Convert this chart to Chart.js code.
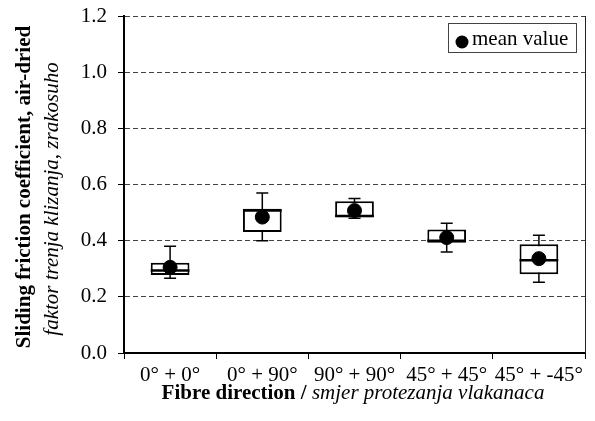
<!DOCTYPE html>
<html>
<head>
<meta charset="utf-8">
<script src="https://cdn.jsdelivr.net/npm/chart.js@4.4.1/dist/chart.umd.min.js"></script>
<style>
  html, body { margin: 0; padding: 0; background: #fff; }
  #wrap { width: 595px; height: 421px; }
</style>
</head>
<body>
<div id="wrap"><canvas id="chart"></canvas></div>
<script>
'use strict';

// fibre direction categories
const categories = ['0° + 0°', '0° + 90°', '90° + 90°', '45° + 45°', '45° + -45°'];

// box plot values
const minVals    = [0.266, 0.400, 0.480, 0.360, 0.252];
const q1Vals     = [0.278, 0.431, 0.483, 0.393, 0.280];
const medianVals = [0.294, 0.507, 0.488, 0.400, 0.330];
const q3Vals     = [0.321, 0.514, 0.540, 0.440, 0.387];
const maxVals    = [0.380, 0.570, 0.550, 0.462, 0.419];
const meanVals   = [0.305, 0.484, 0.507, 0.411, 0.336];

const yTicks = [0, 0.2, 0.4, 0.6, 0.8, 1.0, 1.2];

const SERIF = '"Liberation Serif", "Times New Roman", serif';
const FS = 21;

// whiskers + median + frame + titles + legend
const boxExtras = {
  id: 'boxExtras',
  beforeDatasetsDraw(chart) {
    const { ctx, scales: { x, y } } = chart;
    ctx.save();
    ctx.strokeStyle = '#000';
    ctx.lineWidth = 1.5;
    categories.forEach((c, i) => {
      const cx = x.getPixelForValue(i);
      const yMin = y.getPixelForValue(minVals[i]);
      const yMax = y.getPixelForValue(maxVals[i]);
      ctx.beginPath();
      ctx.moveTo(cx, yMin); ctx.lineTo(cx, yMax);
      ctx.moveTo(cx - 6, yMin); ctx.lineTo(cx + 6, yMin);
      ctx.moveTo(cx - 6, yMax); ctx.lineTo(cx + 6, yMax);
      ctx.stroke();
    });
    ctx.restore();
  },
  afterDatasetDraw(chart, args) {
    if (args.index !== 0) return;
    const { ctx, scales: { y } } = chart;
    const meta = chart.getDatasetMeta(0);
    ctx.save();
    ctx.strokeStyle = '#000';
    ctx.lineWidth = 2.5;
    meta.data.forEach((bar, i) => {
      const half = bar.width / 2;
      const ym = y.getPixelForValue(medianVals[i]);
      ctx.beginPath();
      ctx.moveTo(bar.x - half, ym);
      ctx.lineTo(bar.x + half, ym);
      ctx.stroke();
    });
    ctx.restore();
  },
  afterDraw(chart) {
    const { ctx, chartArea: { top, right, bottom } } = chart;
    ctx.save();

    // right frame line
    ctx.strokeStyle = '#222';
    ctx.lineWidth = 1;
    ctx.beginPath();
    ctx.moveTo(right + 0.5, top);
    ctx.lineTo(right + 0.5, bottom);
    ctx.stroke();

    // legend box
    ctx.fillStyle = '#fff';
    ctx.fillRect(448, 23, 129, 30);
    ctx.strokeStyle = '#444';
    ctx.strokeRect(448.5, 23.5, 128, 29);
    ctx.fillStyle = '#000';
    ctx.beginPath();
    ctx.arc(462, 42, 6.5, 0, Math.PI * 2);
    ctx.fill();
    ctx.font = FS + 'px ' + SERIF;
    ctx.textBaseline = 'middle';
    ctx.textAlign = 'left';
    ctx.fillText('mean value', 472, 39);

    // y axis titles
    ctx.textAlign = 'center';
    ctx.save();
    ctx.translate(25, 187);
    ctx.rotate(-Math.PI / 2);
    ctx.font = 'bold ' + FS + 'px ' + SERIF;
    ctx.fillText('Sliding friction coefficient, air-dried', 0, 0);
    ctx.restore();
    ctx.save();
    ctx.translate(52, 199);
    ctx.rotate(-Math.PI / 2);
    ctx.font = 'italic ' + FS + 'px ' + SERIF;
    ctx.fillText('faktor trenja klizanja, zrakosuho', 0, 0);
    ctx.restore();

    // x axis title, bold + italic parts
    const part1 = 'Fibre direction / ';
    const part2 = 'smjer protezanja vlakanaca';
    ctx.font = 'bold ' + FS + 'px ' + SERIF;
    const w1 = ctx.measureText(part1).width;
    ctx.font = 'italic ' + FS + 'px ' + SERIF;
    const w2 = ctx.measureText(part2).width;
    const x0 = 353 - (w1 + w2) / 2;
    ctx.textAlign = 'left';
    ctx.textBaseline = 'alphabetic';
    ctx.font = 'bold ' + FS + 'px ' + SERIF;
    ctx.fillText(part1, x0, 399);
    ctx.font = 'italic ' + FS + 'px ' + SERIF;
    ctx.fillText(part2, x0 + w1, 399);

    ctx.restore();
  },
};

new Chart(document.getElementById('chart'), {
  data: {
    labels: categories,
    datasets: [
      {
        type: 'bar',
        label: 'box',
        data: q1Vals.map((q, i) => [q, q3Vals[i]]),
        backgroundColor: '#fff',
        borderColor: '#000',
        borderWidth: 2,
        borderSkipped: false,
        categoryPercentage: 1,
        barPercentage: 0.42,
        order: 2,
      },
      {
        type: 'line',
        label: 'mean value',
        data: meanVals,
        showLine: false,
        pointRadius: 7,
        pointBackgroundColor: '#000',
        pointBorderColor: '#000',
        order: 1,
      },
    ],
  },
  plugins: [boxExtras],
  options: {
    responsive: true,
    maintainAspectRatio: false,
    animation: false,
    layout: { padding: { top: 16, right: 10, left: 0, bottom: 0 } },
    plugins: {
      legend: { display: false },
      tooltip: { enabled: false },
    },
    scales: {
      x: {
        type: 'category',
        offset: true,
        grid: {
          offset: true,
          drawOnChartArea: false,
          drawTicks: true,
          tickLength: 6,
          color: '#000',
        },
        border: { display: true, color: '#000', width: 2 },
        ticks: {
          color: '#000',
          font: { family: SERIF, size: FS },
          padding: 4,
          maxRotation: 0,
          autoSkip: false,
        },
        afterFit(scale) { scale.height = 68; scale.paddingLeft = 0; scale.paddingRight = 0; },
      },
      y: {
        min: 0,
        max: 1.2,
        afterBuildTicks(scale) { scale.ticks = yTicks.map(v => ({ value: v })); },
        grid: {
          color: '#444',
          lineWidth: 1,
          drawTicks: true,
          tickLength: 6,
          tickColor: '#000',
        },
        border: { display: true, color: '#000', width: 2, dash: [5, 3] },
        ticks: {
          color: '#000',
          font: { family: SERIF, size: FS },
          padding: 11,
          callback: v => Number(v).toFixed(1),
        },
        afterFit(scale) { scale.width = 124; scale.paddingTop = 0; scale.paddingBottom = 0; },
      },
    },
  },
});
</script>
</body>
</html>
